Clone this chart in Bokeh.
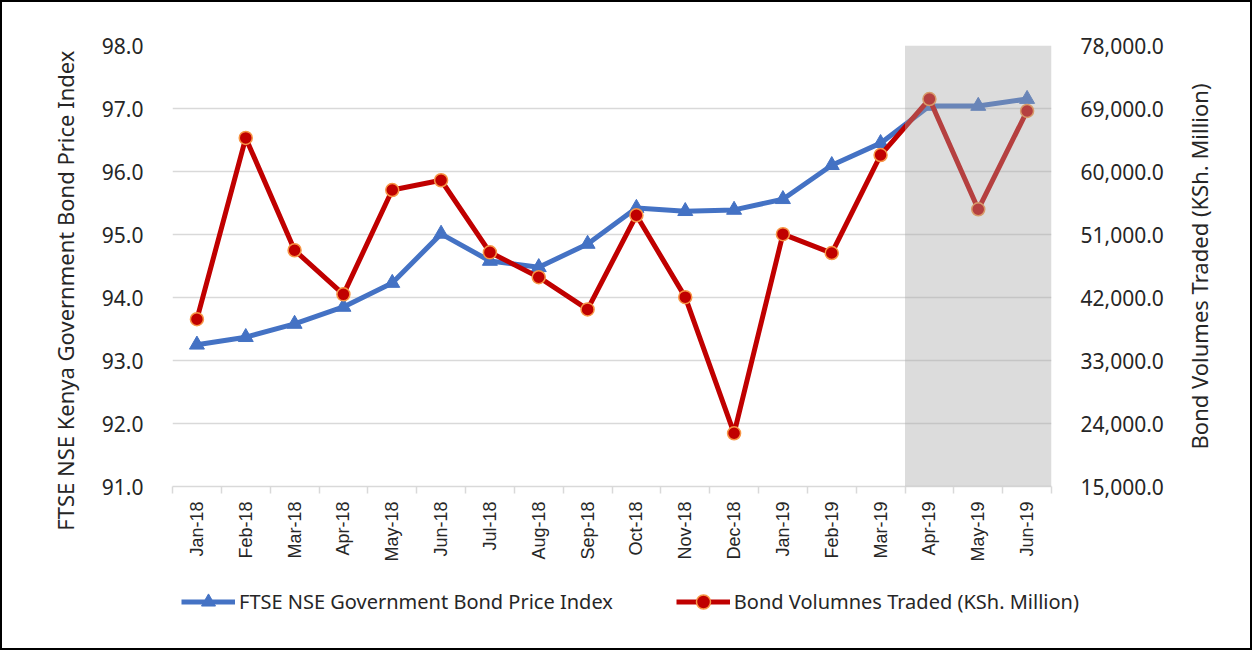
import math
from bokeh.plotting import figure
from bokeh.layouts import column, row
from bokeh.models import (Range1d, LinearAxis, FixedTicker, NumeralTickFormatter,
                          BoxAnnotation, Legend, LegendItem, ColumnDataSource, Label)
from bokeh.embed import file_html
from bokeh.resources import INLINE

months = ["Jan-18", "Feb-18", "Mar-18", "Apr-18", "May-18", "Jun-18", "Jul-18", "Aug-18",
          "Sep-18", "Oct-18", "Nov-18", "Dec-18", "Jan-19", "Feb-19", "Mar-19", "Apr-19",
          "May-19", "Jun-19"]
price_index = [93.25, 93.37, 93.58, 93.85, 94.23, 95.01, 94.58, 94.48, 94.85, 95.42,
               95.37, 95.39, 95.56, 96.10, 96.45, 97.04, 97.04, 97.15]
volumes = [38900, 64800, 48750, 42450, 57350, 58750, 48450, 44900, 40300, 53750,
           42050, 22600, 51050, 48350, 62350, 70350, 54600, 68650]
left_ticks = [91, 92, 93, 94, 95, 96, 97, 98]
right_ticks = [15000, 24000, 33000, 42000, 51000, 60000, 69000, 78000]
shade_start = "Apr-19"
series_names = ["FTSE NSE Government Bond Price Index", "Bond Volumnes Traded (KSh. Million)"]
left_title = "FTSE NSE Kenya Government Bond Price Index"
right_title = "Bond Volumes Traded (KSh. Million)"

n = len(months)
xs = [i + 0.5 for i in range(n)]
src = ColumnDataSource(dict(x=xs, m=months, idx=price_index, vol=volumes))

FONT = "Noto Sans"
TXT = "#262626"
GRID = "#D9D9D9"
BLUE = "#4472C4"
RED = "#C00000"
ORANGE = "#F79646"
H = 564


def blank(width, height):
    f = figure(width=width, height=height, output_backend="svg", toolbar_location=None,
               x_range=Range1d(0, 1), y_range=Range1d(0, 1),
               min_border_left=0, min_border_right=0, min_border_top=0, min_border_bottom=0)
    f.frame_align = False
    f.axis.visible = False
    f.grid.visible = False
    f.outline_line_color = None
    return f


p = figure(width=1088, height=H, output_backend="svg", toolbar_location=None,
           x_range=Range1d(0, n), y_range=Range1d(left_ticks[0], left_ticks[-1]),
           min_border_left=80, min_border_right=129, min_border_top=43, min_border_bottom=80)
p.frame_align = False
p.outline_line_color = None
p.background_fill_color = "white"
p.border_fill_color = "white"
p.extra_y_ranges = {"vol": Range1d(right_ticks[0], right_ticks[-1])}

# x axis
xa = p.xaxis[0]
xa.ticker = FixedTicker(ticks=xs, minor_ticks=list(range(n + 1)))
xa.major_label_overrides = {x: m for x, m in zip(xs, months)}
xa.major_label_orientation = math.pi / 2
xa.major_label_text_font = "Liberation Sans"
xa.major_label_text_font_size = "18px"
xa.major_label_text_color = TXT
xa.major_tick_line_color = None
xa.minor_tick_in = 0
xa.minor_tick_out = 7
xa.minor_tick_line_color = GRID
xa.minor_tick_line_width = 1.5
xa.axis_line_color = GRID
xa.axis_line_width = 1.5
xa.major_label_standoff = 8

# left axis
ya = p.yaxis[0]
ya.ticker = FixedTicker(ticks=left_ticks)
ya.formatter = NumeralTickFormatter(format="0.0")
ya.major_label_text_font = FONT
ya.major_label_text_font_size = "21px"
ya.major_label_text_color = TXT
ya.major_label_standoff = 23
ya.axis_line_color = None
ya.major_tick_line_color = None
ya.minor_tick_line_color = None

# right axis
ra = LinearAxis(y_range_name="vol", ticker=FixedTicker(ticks=right_ticks),
                formatter=NumeralTickFormatter(format="0,0.0"))
ra.major_label_text_font = FONT
ra.major_label_text_font_size = "21px"
ra.major_label_text_color = TXT
ra.major_label_standoff = 23
ra.axis_line_color = None
ra.major_tick_line_color = None
ra.minor_tick_line_color = None
p.add_layout(ra, "right")

p.xgrid.grid_line_color = None
p.ygrid.ticker = FixedTicker(ticks=left_ticks)
p.ygrid.grid_line_color = GRID
p.ygrid.grid_line_width = 1.5

# series
p.line("x", "idx", source=src, line_color=BLUE, line_width=5)
p.scatter("x", "idx", source=src, marker="triangle", size=15,
          fill_color=BLUE, line_color=BLUE)
p.line("x", "vol", source=src, y_range_name="vol", line_color=RED, line_width=5)
p.scatter("x", "vol", source=src, y_range_name="vol", marker="circle", size=13,
          fill_color=RED, line_color=ORANGE, line_width=1.5)

# shaded period overlay
shade = BoxAnnotation(left=months.index(shade_start), right=n,
                      bottom=left_ticks[0], top=left_ticks[-1],
                      fill_color="#A5A5A5", fill_alpha=0.39, line_color=None)
p.add_layout(shade)

# axis titles in narrow side strips
lfig = blank(90, H)
lfig.add_layout(Label(x=0.69, y=0.489, text=left_title, angle=math.pi / 2,
                      text_align="center", text_baseline="middle", text_font=FONT,
                      text_font_size="22px", text_color=TXT))
rfig = blank(70, H)
rfig.add_layout(Label(x=0.26, y=0.532, text=right_title, angle=math.pi / 2,
                      text_align="center", text_baseline="middle", text_font=FONT,
                      text_font_size="22px", text_color=TXT))

# legend strip below the chart (its key renderers lie outside its visible range)
lg = blank(1248, 82)
kl1 = lg.line("x", "idx", source=src, line_color=BLUE, line_width=5)
ks1 = lg.scatter("x", "idx", source=src, marker="triangle", size=15,
                 fill_color=BLUE, line_color=BLUE)
kl2 = lg.line("x", "vol", source=src, line_color=RED, line_width=5)
ks2 = lg.scatter("x", "vol", source=src, marker="circle", size=13, fill_color=RED,
                 line_color=ORANGE, line_width=1.5)
legend = Legend(items=[LegendItem(label=series_names[0], renderers=[kl1, ks1]),
                       LegendItem(label=series_names[1], renderers=[kl2, ks2])],
                orientation="horizontal", location=(179, 29), glyph_width=54, glyph_height=35,
                label_standoff=4, spacing=63, padding=0, margin=0,
                border_line_color=None, background_fill_alpha=0,
                label_text_font=FONT, label_text_font_size="20px", label_text_color=TXT)
lg.add_layout(legend)

layout = column(row(lfig, p, rfig, spacing=0), lg, spacing=0)
layout.styles = {"border": "2px solid #000000"}

open("out.html", "w").write(file_html(layout, INLINE))
